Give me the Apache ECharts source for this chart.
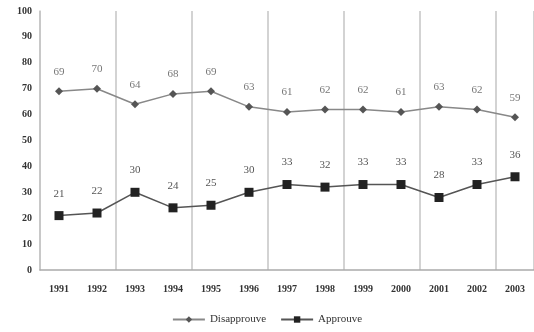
<!DOCTYPE html>
<html>
<head>
<meta charset="utf-8">
<script src="https://cdn.jsdelivr.net/npm/echarts@6/dist/echarts.min.js"></script>
<style>
  html, body { margin: 0; padding: 0; background: #fff; }
  #main { width: 534px; height: 332px; }
</style>
</head>
<body>
<div id="main"></div>
<script>
var years = ['1991', '1992', '1993', '1994', '1995', '1996', '1997', '1998', '1999', '2000', '2001', '2002', '2003'];
var disapprove = [69, 70, 64, 68, 69, 63, 61, 62, 62, 61, 63, 62, 59];
var approve = [21, 22, 30, 24, 25, 30, 33, 32, 33, 33, 28, 33, 36];
var yTicks = [0, 10, 20, 30, 40, 50, 60, 70, 80, 90, 100];

var font = 'Liberation Serif';
var myChart = echarts.init(document.getElementById('main'));

myChart.setOption({
  animation: false,
  textStyle: { fontFamily: font },
  grid: { left: 40, right: -4, top: 11, bottom: 62 },
  legend: {
    bottom: 2,
    left: 'center',
    itemGap: 14,
    itemWidth: 32,
    itemHeight: 8,
    textStyle: { fontFamily: font, fontSize: 11, color: '#333' },
    data: ['Disapprouve', 'Approuve']
  },
  xAxis: {
    type: 'category',
    data: years,
    boundaryGap: true,
    axisLine: { show: true, lineStyle: { color: '#aaa', width: 1.5 } },
    axisTick: { show: false },
    axisLabel: { interval: 0, margin: 14, fontFamily: font, fontSize: 10, fontWeight: 'bold', color: '#333' },
    splitLine: { show: true, interval: 1, lineStyle: { color: '#c4c4c4', width: 1.5 } }
  },
  yAxis: {
    type: 'value',
    min: yTicks[0],
    max: yTicks[yTicks.length - 1],
    interval: 10,
    axisLine: { show: true, lineStyle: { color: '#c4c4c4', width: 1.5 } },
    axisTick: { show: false },
    axisLabel: { margin: 8, fontFamily: font, fontSize: 10, fontWeight: 'bold', color: '#333' },
    splitLine: {
      show: true,
      lineStyle: {
        color: ['#d4d4d4', '#d4d4d4', '#d4d4d4', '#d4d4d4', '#d4d4d4', '#d4d4d4', '#d4d4d4', '#d4d4d4', '#d4d4d4', '#d4d4d4', '#999'],
        width: [1.5, 1.5, 1.5, 1.5, 1.5, 1.5, 1.5, 1.5, 1.5, 1.5, 2]
      }
    }
  },
  series: [
    {
      name: 'Disapprouve',
      type: 'line',
      data: disapprove,
      symbol: 'diamond',
      symbolSize: 8,
      itemStyle: { color: '#555' },
      lineStyle: { color: '#888', width: 1.5 },
      label: { show: true, position: 'top', distance: 10, fontFamily: font, fontSize: 11, color: '#777' }
    },
    {
      name: 'Approuve',
      type: 'line',
      data: approve,
      symbol: 'rect',
      symbolSize: 9,
      itemStyle: { color: '#222' },
      lineStyle: { color: '#555', width: 1.5 },
      label: { show: true, position: 'top', distance: 12, fontFamily: font, fontSize: 11, color: '#555' }
    }
  ]
});
</script>
</body>
</html>
